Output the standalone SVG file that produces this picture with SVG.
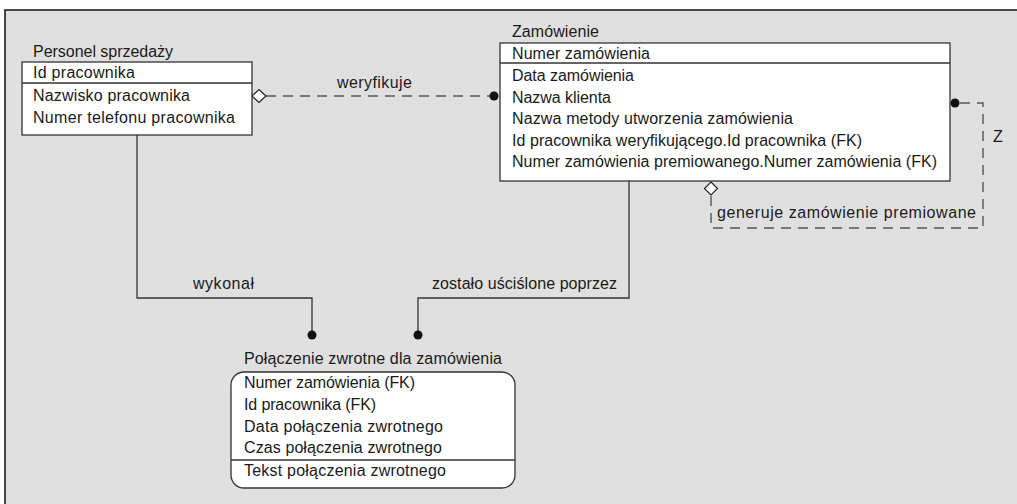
<svg xmlns="http://www.w3.org/2000/svg" width="1017" height="504" viewBox="0 0 1017 504">
<style>
text{font-family:"Liberation Sans","DejaVu Sans",sans-serif;font-size:16px;fill:#1a1a1a}
.box{fill:#fff;stroke:#333;stroke-width:1.3}
.sep{stroke:#333;stroke-width:1.3}
.solid{fill:none;stroke:#333;stroke-width:1.3}
.dash{fill:none;stroke:#555;stroke-width:1.4;stroke-dasharray:10 7}
.dot{fill:#111}
.dia{fill:#fff;stroke:#222;stroke-width:1.2}
</style>
<rect x="0" y="0" width="1017" height="504" fill="#fff"/>
<rect x="5" y="10" width="1020" height="500" fill="#e0e0e0" stroke="#111" stroke-width="1.5"/>
<g id="connectors">
<path class="dash" d="M266,96 H490"/>
<circle class="dot" cx="494" cy="96" r="4.5"/>
<path class="dia" d="M252,96 L259,89.5 L266,96 L259,102.5 Z"/>
<text x="337" y="88" textLength="75" lengthAdjust="spacing">weryfikuje</text>
<path class="dash" d="M711,196 V228 H983 V103 H959"/>
<circle class="dot" cx="955" cy="103" r="4.5"/>
<path class="dia" d="M711,182 L717.5,188.5 L711,195 L704.5,188.5 Z"/>
<text x="717" y="218" textLength="259" lengthAdjust="spacing">generuje zamówienie premiowane</text>
<text x="993" y="142">Z</text>
<path class="solid" d="M137,135 V298 H312 V331"/>
<circle class="dot" cx="312" cy="335" r="4.5"/>
<text x="193" y="289" textLength="61" lengthAdjust="spacing">wykonał</text>
<path class="solid" d="M629,181 V298 H418 V331"/>
<circle class="dot" cx="418" cy="335" r="4.5"/>
<text x="432" y="289" textLength="185" lengthAdjust="spacing">zostało uściślone poprzez</text>
</g>
<g id="personel">
<text x="33" y="57" textLength="140" lengthAdjust="spacing">Personel sprzedaży</text>
<rect class="box" x="22" y="62" width="230" height="73"/>
<line class="sep" x1="22" y1="83" x2="252" y2="83"/>
<text x="33" y="78" textLength="102" lengthAdjust="spacing">Id pracownika</text>
<text x="33" y="101" textLength="157" lengthAdjust="spacing">Nazwisko pracownika</text>
<text x="33" y="123" textLength="202" lengthAdjust="spacing">Numer telefonu pracownika</text>
</g>
<g id="zamowienie">
<text x="512" y="37" textLength="87" lengthAdjust="spacing">Zamówienie</text>
<rect class="box" x="500" y="43" width="450" height="138"/>
<line class="sep" x1="500" y1="63" x2="950" y2="63"/>
<text x="512" y="59" textLength="138" lengthAdjust="spacing">Numer zamówienia</text>
<text x="512" y="81" textLength="122" lengthAdjust="spacing">Data zamówienia</text>
<text x="512" y="103" textLength="99" lengthAdjust="spacing">Nazwa klienta</text>
<text x="512" y="124" textLength="281" lengthAdjust="spacing">Nazwa metody utworzenia zamówienia</text>
<text x="512" y="146" textLength="350" lengthAdjust="spacing">Id pracownika weryfikującego.Id pracownika (FK)</text>
<text x="512" y="167" textLength="425" lengthAdjust="spacing">Numer zamówienia premiowanego.Numer zamówienia (FK)</text>
</g>
<g id="polaczenie">
<text x="244" y="364" textLength="258" lengthAdjust="spacing">Połączenie zwrotne dla zamówienia</text>
<rect class="box" x="231" y="372" width="284" height="116" rx="13"/>
<line class="sep" x1="231" y1="460" x2="515" y2="460"/>
<text x="244" y="388" textLength="171" lengthAdjust="spacing">Numer zamówienia (FK)</text>
<text x="244" y="410" textLength="132" lengthAdjust="spacing">Id pracownika (FK)</text>
<text x="244" y="432" textLength="199" lengthAdjust="spacing">Data połączenia zwrotnego</text>
<text x="244" y="453" textLength="198" lengthAdjust="spacing">Czas połączenia zwrotnego</text>
<text x="244" y="476" textLength="202" lengthAdjust="spacing">Tekst połączenia zwrotnego</text>
</g>
</svg>
